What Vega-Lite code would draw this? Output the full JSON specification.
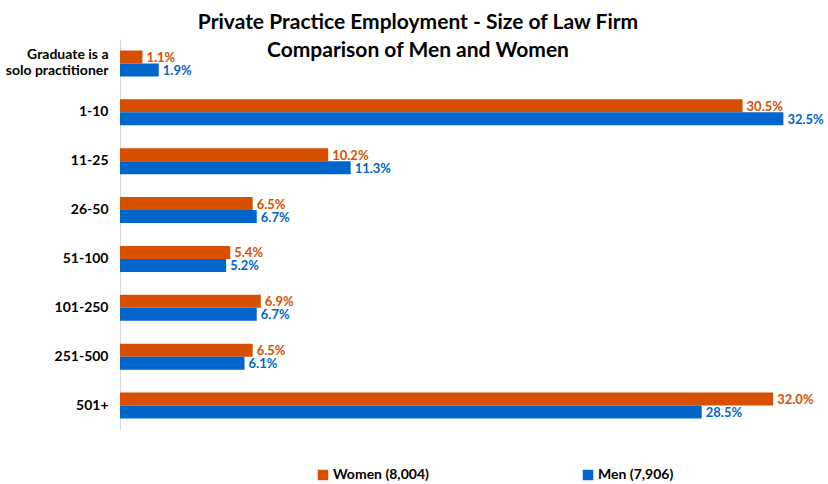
{
  "$schema": "https://vega.github.io/schema/vega-lite/v6.json",
  "width": 694,
  "height": 391,
  "autosize": {"type": "none"},
  "padding": {"left": 120, "top": 39, "right": 14, "bottom": 54},
  "background": "white",
  "config": {
    "font": "Lato",
    "view": {"stroke": null}
  },
  "title": {
    "text": ["Private Practice Employment - Size of Law Firm", "Comparison of Men and Women"],
    "font": "Lato",
    "fontSize": 21,
    "fontWeight": "bold",
    "color": "#000000",
    "anchor": "middle",
    "dx": -49,
    "offset": -22,
    "lineHeight": 28
  },
  "data": {
    "values": [
      {"size": "Graduate is a solo practitioner", "gender": "Women (8,004)", "pct": 1.1},
      {"size": "Graduate is a solo practitioner", "gender": "Men (7,906)", "pct": 1.9},
      {"size": "1-10", "gender": "Women (8,004)", "pct": 30.5},
      {"size": "1-10", "gender": "Men (7,906)", "pct": 32.5},
      {"size": "11-25", "gender": "Women (8,004)", "pct": 10.2},
      {"size": "11-25", "gender": "Men (7,906)", "pct": 11.3},
      {"size": "26-50", "gender": "Women (8,004)", "pct": 6.5},
      {"size": "26-50", "gender": "Men (7,906)", "pct": 6.7},
      {"size": "51-100", "gender": "Women (8,004)", "pct": 5.4},
      {"size": "51-100", "gender": "Men (7,906)", "pct": 5.2},
      {"size": "101-250", "gender": "Women (8,004)", "pct": 6.9},
      {"size": "101-250", "gender": "Men (7,906)", "pct": 6.7},
      {"size": "251-500", "gender": "Women (8,004)", "pct": 6.5},
      {"size": "251-500", "gender": "Men (7,906)", "pct": 6.1},
      {"size": "501+", "gender": "Women (8,004)", "pct": 32.0},
      {"size": "501+", "gender": "Men (7,906)", "pct": 28.5}
    ]
  },
  "encoding": {
    "y": {
      "field": "size",
      "type": "nominal",
      "sort": null,
      "scale": {"paddingInner": 0.47, "paddingOuter": 0.235},
      "axis": {
        "title": null,
        "ticks": false,
        "domainColor": "#d9d9d9",
        "labelFont": "Lato",
        "labelFontSize": 14,
        "labelFontWeight": "bold",
        "labelColor": "#000000",
        "labelPadding": 12,
        "labelBaseline": "middle",
        "labelLineHeight": 16,
        "labelOffset": {"condition": {"test": "datum.value == 'Graduate is a solo practitioner'", "value": -8}, "value": 0},
        "labelExpr": "datum.value == 'Graduate is a solo practitioner' ? ['Graduate is a', 'solo practitioner'] : datum.label"
      }
    },
    "yOffset": {
      "field": "gender",
      "type": "nominal",
      "sort": ["Women (8,004)", "Men (7,906)"],
      "scale": {"paddingInner": 0, "paddingOuter": 0}
    },
    "x": {
      "field": "pct",
      "type": "quantitative",
      "scale": {"domain": [0, 34]},
      "axis": null
    }
  },
  "layer": [
    {
      "mark": {"type": "bar", "clip": false},
      "encoding": {
        "color": {
          "field": "gender",
          "type": "nominal",
          "sort": ["Women (8,004)", "Men (7,906)"],
          "scale": {"domain": ["Women (8,004)", "Men (7,906)"], "range": ["#D65000", "#0066CC"]},
          "legend": {
            "title": null,
            "orient": "none",
            "direction": "horizontal",
            "legendX": 196,
            "legendY": 429,
            "symbolType": "square",
            "symbolSize": 110,
            "symbolStrokeWidth": 0,
            "labelFont": "Lato",
            "labelFontSize": 14,
            "labelFontWeight": "bold",
            "labelColor": "#000000",
            "columnPadding": 152,
            "labelOffset": 3,
            "labelLimit": 200
          }
        }
      }
    },
    {
      "transform": [{"calculate": "format(datum.pct, '.1f') + '%'", "as": "lbl"}],
      "mark": {"type": "text", "align": "left", "baseline": "middle", "dx": 4, "dy": 1, "fontSize": 13, "fontWeight": "bold", "font": "Lato"},
      "encoding": {
        "text": {"field": "lbl", "type": "nominal"},
        "color": {
          "field": "gender",
          "type": "nominal",
          "scale": {"domain": ["Women (8,004)", "Men (7,906)"], "range": ["#D65000", "#0066CC"]},
          "legend": null
        }
      }
    }
  ]
}
